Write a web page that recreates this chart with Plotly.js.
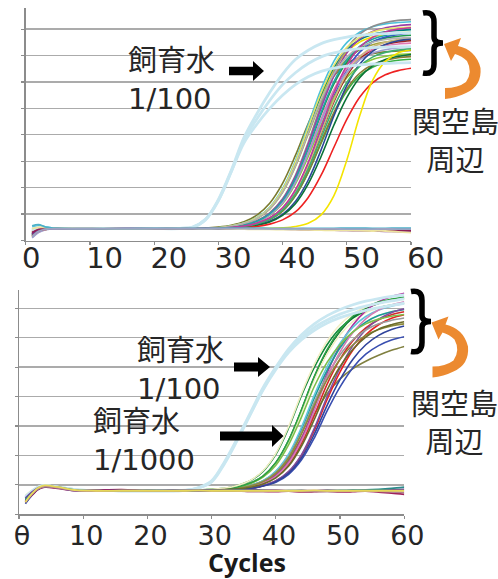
<!DOCTYPE html>
<html><head><meta charset="utf-8">
<script src="https://cdn.plot.ly/plotly-3.0.1.min.js"></script>
<style>html,body{margin:0;padding:0;background:#fff}#chart{width:498px;height:579px}</style>
</head><body><div id="chart"></div>
<script>
// ---- shared axis data ----
const CYCLES = [1,2,3,4,6,9,12,16,20,24,26,28,30,32,34,36,38,40,42,44,46,48,50,52,54,56,58,60];
const X_TICKS = [0,10,20,30,40,50,60];
const TOP_TICK_TEXT = ['0','10','20','30','40','50','60'];
const BOTTOM_TICK_TEXT = ['θ','10','20','30','40','50','60'];

// ---- top panel: 飼育水 1/100 (light blue) ----
const TW1 = [.45,.5,.48,.46,.45,.45,.45,.45,.45,.45,.5,.8,1.55,2.65,3.9,4.8,5.6,6.3,6.85,7.2,7.45,7.6,7.7,7.76,7.8,7.83,7.85,7.87];
const TW2 = [.4,.48,.47,.46,.45,.45,.45,.45,.45,.46,.5,.78,1.5,2.6,3.8,4.6,5.3,5.9,6.35,6.7,6.95,7.1,7.2,7.26,7.3,7.32,7.33,7.34];
const TW3 = [.42,.49,.47,.46,.45,.45,.45,.45,.45,.46,.51,.8,1.52,2.6,3.7,4.4,5.0,5.5,5.9,6.2,6.4,6.52,6.6,6.65,6.68,6.7,6.72,6.73];

// ---- top panel: 関空島周辺 samples ----
const T01 = [.22,.4,.45,.46,.45,.44,.44,.45,.45,.45,.46,.47,.51,.58,.71,.96,1.41,2.16,3.22,4.43,5.49,6.24,6.70,6.94,7.07,7.14,7.17,7.19];
const T02 = [.35,.46,.47,.46,.45,.45,.44,.44,.45,.45,.45,.46,.48,.54,.64,.83,1.19,1.82,2.80,4.03,5.25,6.23,6.86,7.22,7.41,7.51,7.56,7.58];
const T03 = [.12,.32,.41,.44,.45,.45,.45,.45,.45,.45,.46,.46,.48,.55,.65,.84,1.22,1.88,2.89,4.18,5.46,6.47,7.13,7.51,7.70,7.80,7.86,7.88];
const T04 = [.3,.44,.47,.46,.45,.44,.45,.45,.44,.45,.45,.46,.48,.55,.65,.85,1.23,1.90,2.93,4.23,5.52,6.55,7.22,7.60,7.80,7.90,7.95,7.98];
const T05 = [.5,.56,.52,.48,.46,.45,.45,.45,.45,.45,.46,.46,.48,.55,.66,.87,1.26,1.96,3.02,4.38,5.73,6.79,7.49,7.88,8.09,8.20,8.25,8.28];
const T06 = [.28,.42,.45,.45,.45,.45,.44,.45,.45,.45,.45,.46,.47,.52,.60,.75,1.05,1.58,2.47,3.72,5.13,6.38,7.27,7.81,8.10,8.25,8.33,8.36];
const T07 = [.18,.37,.43,.45,.45,.45,.45,.44,.45,.45,.45,.46,.47,.52,.59,.73,1.00,1.49,2.32,3.47,4.78,5.93,6.76,7.26,7.52,7.66,7.73,7.77];
const T08 = [.25,.4,.44,.45,.45,.45,.45,.45,.45,.44,.45,.46,.47,.52,.60,.74,1.03,1.55,2.42,3.64,5.01,6.23,7.10,7.63,7.91,8.05,8.13,8.17];
const T09 = [.2,.38,.44,.45,.45,.45,.44,.45,.45,.45,.45,.45,.46,.50,.55,.65,.84,1.22,1.88,2.89,4.18,5.46,6.47,7.13,7.51,7.70,7.80,7.86];
const T10 = [.4,.48,.47,.46,.45,.45,.45,.45,.45,.45,.45,.46,.47,.51,.58,.70,.95,1.39,2.14,3.18,4.37,5.41,6.16,6.61,6.85,6.97,7.04,7.07];
const T11 = [.15,.35,.42,.44,.45,.45,.45,.45,.44,.45,.45,.45,.46,.50,.54,.64,.83,1.19,1.82,2.80,4.03,5.25,6.23,6.86,7.22,7.41,7.51,7.56];
const T12 = [.32,.44,.46,.46,.45,.45,.45,.45,.45,.45,.45,.46,.47,.51,.58,.72,.98,1.45,2.24,3.35,4.60,5.71,6.50,6.98,7.23,7.37,7.44,7.47];
const T13 = [.38,.47,.47,.46,.45,.45,.45,.45,.45,.45,.45,.45,.46,.50,.54,.65,.83,1.20,1.84,2.83,4.08,5.32,6.31,6.95,7.32,7.50,7.61,7.66];
const T14 = [.1,.3,.4,.44,.45,.45,.45,.45,.45,.45,.45,.46,.47,.51,.58,.71,.97,1.43,2.20,3.29,4.51,5.60,6.37,6.84,7.09,7.22,7.29,7.32];
const T15 = [.26,.41,.45,.45,.45,.45,.45,.45,.45,.45,.45,.45,.46,.49,.53,.62,.79,1.11,1.69,2.57,3.68,4.78,5.66,6.24,6.56,6.73,6.82,6.86];
const T16 = [.45,.52,.5,.47,.46,.45,.45,.45,.45,.45,.45,.46,.47,.52,.59,.73,1.01,1.51,2.34,3.51,4.84,6.01,6.84,7.35,7.62,7.76,7.83,7.87];
const T17 = [.42,.5,.49,.47,.46,.45,.45,.45,.45,.45,.46,.46,.48,.55,.66,.86,1.24,1.92,2.96,4.28,5.59,6.63,7.31,7.69,7.89,8.00,8.05,8.08];
const T18 = [.2,.38,.43,.45,.45,.45,.45,.45,.45,.45,.45,.45,.46,.49,.54,.63,.80,1.12,1.71,2.60,3.73,4.85,5.74,6.33,6.65,6.82,6.92,6.96];
const T19 = [.22,.39,.44,.45,.45,.45,.45,.45,.45,.45,.45,.45,.46,.48,.52,.59,.73,.99,1.48,2.29,3.43,4.72,5.86,6.67,7.16,7.42,7.56,7.63];
const T20 = [.3,.42,.45,.45,.45,.45,.45,.45,.45,.45,.45,.45,.46,.48,.51,.58,.70,.95,1.39,2.14,3.18,4.37,5.41,6.16,6.61,6.85,6.97,7.04];
const T21 = [.18,.36,.42,.44,.45,.45,.45,.45,.45,.45,.45,.45,.45,.47,.49,.53,.62,.78,1.08,1.63,2.47,3.53,4.58,5.42,5.97,6.27,6.43,6.52];
const T22 = [.33,.45,.46,.46,.45,.45,.45,.45,.45,.45,.45,.45,.45,.45,.45,.45,.46,.48,.53,.65,.97,1.70,3.04,4.71,6.05,6.78,7.10,7.22];
const T23 = [.36,.46,.47,.46,.45,.45,.45,.45,.45,.45,.46,.46,.48,.54,.65,.83,1.20,1.84,2.83,4.08,5.32,6.31,6.95,7.32,7.50,7.61,7.66,7.68];
const T24 = [.24,.4,.44,.45,.45,.45,.45,.45,.45,.45,.45,.45,.46,.49,.54,.63,.81,1.16,1.77,2.70,3.88,5.05,5.98,6.59,6.94,7.12,7.21,7.26];
const T25 = [.3,.43,.45,.45,.45,.45,.45,.45,.45,.45,.45,.45,.46,.50,.55,.66,.86,1.24,1.92,2.96,4.28,5.59,6.63,7.31,7.69,7.89,8.00,8.05];

// ---- top panel: flat (negative) curves ----
const TN1 = [.25,.4,.44,.45,.44,.43,.44,.45,.45,.44,.45,.45,.44,.44,.45,.44,.43,.43,.42,.41,.40,.39,.38,.37,.36,.35,.34,.33];
const TN2 = [.3,.42,.46,.46,.45,.45,.44,.45,.44,.45,.44,.45,.45,.46,.45,.44,.44,.43,.43,.42,.42,.40,.40,.39,.40,.38,.39,.37];
const TN3 = [.45,.5,.49,.47,.46,.45,.45,.44,.45,.45,.45,.44,.45,.44,.43,.42,.42,.41,.41,.40,.39,.38,.38,.37,.36,.36,.33,.3];
const TN4 = [.55,.6,.52,.48,.46,.45,.45,.45,.46,.46,.46,.46,.46,.47,.47,.47,.46,.46,.45,.46,.46,.46,.47,.47,.46,.46,.47,.47];
const TN5 = [.15,.35,.42,.44,.44,.44,.45,.45,.45,.45,.45,.45,.45,.45,.45,.44,.44,.44,.45,.44,.44,.44,.43,.43,.43,.44,.43,.43];

// ---- bottom panel: 飼育水 (light blue) ----
const BW1 = [.55,.75,.92,.97,.92,.83,.81,.8,.8,.8,.81,.9,1.12,1.75,2.55,3.4,4.25,4.95,5.55,6.0,6.35,6.6,6.8,6.95,7.07,7.17,7.25,7.32];
const BW2 = [.6,.78,.93,.97,.92,.83,.81,.8,.8,.8,.81,.89,1.1,1.72,2.52,3.38,4.22,4.92,5.5,5.93,6.25,6.5,6.68,6.82,6.93,7.02,7.1,7.17];
const BW3 = [.58,.77,.92,.97,.92,.83,.81,.8,.8,.8,.82,.91,1.14,1.78,2.58,3.44,4.3,5.0,5.62,6.1,6.47,6.75,6.96,7.12,7.24,7.33,7.4,7.45];

// ---- bottom panel: samples ----
const B01 = [.45,.7,.9,.97,.92,.83,.8,.8,.8,.8,.81,.82,.85,.88,.98,1.14,1.46,2.04,2.94,4.04,5.0,5.77,6.32,6.67,6.90,7.02,7.11,7.16];
const B02 = [.5,.72,.9,.96,.91,.82,.8,.8,.8,.8,.81,.82,.84,.87,.93,1.06,1.30,1.75,2.51,3.54,4.67,5.56,6.22,6.69,6.99,7.16,7.26,7.33];
const B03 = [.6,.78,.92,.97,.92,.83,.81,.8,.8,.81,.81,.82,.84,.87,.93,1.05,1.29,1.73,2.47,3.48,4.58,5.45,6.10,6.55,6.85,7.01,7.12,7.18];
const B04 = [.55,.75,.9,.96,.92,.83,.81,.8,.8,.8,.81,.82,.83,.85,.88,.98,1.13,1.45,2.01,2.89,3.96,4.90,5.66,6.19,6.53,6.75,6.88,6.96];
const B05 = [.42,.68,.87,.95,.91,.82,.8,.8,.8,.8,.8,.81,.82,.84,.87,.95,1.08,1.35,1.85,2.6,3.4,4.1,4.6,4.95,5.2,5.4,5.57,5.7];
const B06 = [.4,.66,.86,.94,.9,.82,.8,.8,.8,.8,.8,.81,.82,.84,.85,.87,.96,1.09,1.36,1.85,2.60,3.52,4.33,4.98,5.44,5.73,5.92,6.03];
const B07 = [.48,.7,.88,.95,.91,.82,.8,.8,.8,.8,.8,.81,.82,.84,.85,.88,.97,1.13,1.44,2.0,2.86,3.91,4.84,5.58,6.10,6.44,6.66,6.78];
const B08 = [.52,.72,.89,.95,.9,.82,.8,.8,.8,.8,.8,.81,.82,.84,.86,.93,1.04,1.27,1.69,2.41,3.37,4.43,5.27,5.90,6.33,6.61,6.78,6.88];
const B09 = [.44,.68,.88,.95,.91,.82,.8,.8,.8,.8,.8,.81,.82,.85,.87,.94,1.07,1.32,1.78,2.57,3.64,4.81,5.74,6.43,6.91,7.22,7.40,7.51];
const B10 = [.58,.76,.9,.96,.91,.82,.8,.8,.8,.8,.81,.81,.83,.85,.88,.98,1.13,1.45,2.01,2.89,3.96,4.90,5.66,6.19,6.53,6.75,6.88,6.96];
const B11 = [.62,.8,.93,.97,.92,.83,.81,.8,.8,.8,.81,.82,.83,.85,.88,.98,1.14,1.47,2.05,2.96,4.06,5.03,5.81,6.36,6.72,6.94,7.07,7.16];
const B12 = [.46,.7,.88,.95,.9,.82,.8,.8,.8,.8,.8,.81,.82,.84,.85,.88,.98,1.14,1.46,2.03,2.93,4.01,4.97,5.73,6.27,6.63,6.85,6.98];
const B13 = [.5,.72,.89,.95,.91,.82,.8,.8,.8,.8,.8,.81,.83,.85,.88,.97,1.12,1.42,1.96,2.79,3.81,4.71,5.42,5.93,6.26,6.47,6.59,6.67];
const B14 = [.48,.7,.88,.95,.91,.82,.8,.8,.8,.8,.8,.81,.82,.85,.87,.93,1.06,1.29,1.74,2.50,3.52,4.64,5.52,6.18,6.64,6.94,7.11,7.22];
const B15 = [.54,.74,.9,.96,.91,.82,.8,.8,.8,.8,.81,.82,.84,.86,.92,1.04,1.26,1.67,2.37,3.31,4.35,5.17,5.77,6.20,6.47,6.63,6.73,6.79];
const B16 = [.4,.66,.86,.94,.9,.82,.8,.8,.8,.8,.8,.81,.83,.85,.88,.96,1.11,1.40,1.92,2.73,3.71,4.58,5.27,5.76,6.08,6.28,6.40,6.47];
const B17 = [.36,.64,.85,.94,.9,.82,.8,.8,.8,.8,.8,.81,.82,.84,.85,.88,.96,1.11,1.40,1.92,2.73,3.71,4.58,5.27,5.76,6.08,6.28,6.40];
const B18 = [.5,.72,.9,.96,.91,.82,.8,.8,.8,.8,.81,.82,.84,.87,.93,1.06,1.30,1.76,2.52,3.56,4.69,5.60,6.26,6.73,7.03,7.21,7.31,7.38];
const B19 = [.64,.82,.94,.98,.92,.83,.81,.8,.8,.81,.81,.82,.85,.89,.98,1.15,1.48,2.07,2.99,4.11,5.10,5.89,6.45,6.81,7.04,7.17,7.26,7.31];
const B20 = [.44,.68,.87,.95,.9,.82,.8,.8,.8,.8,.8,.81,.82,.84,.86,.92,1.03,1.24,1.64,2.32,3.23,4.23,5.02,5.61,6.02,6.29,6.44,6.54];

// ---- bottom panel: flat (negative) curves ----
const BN1 = [.45,.65,.85,.92,.88,.8,.82,.84,.8,.8,.8,.8,.8,.79,.8,.78,.78,.77,.79,.76,.77,.79,.76,.77,.79,.75,.72,.68];
const BN2 = [.55,.75,.9,.95,.9,.8,.8,.8,.81,.82,.81,.82,.82,.81,.82,.83,.82,.82,.8,.81,.8,.82,.8,.81,.8,.82,.83,.85];
const BN3 = [.5,.7,.88,.95,.92,.82,.8,.8,.81,.8,.8,.8,.8,.8,.81,.8,.8,.79,.8,.8,.79,.8,.81,.82,.83,.85,.88,.92];
const BN4 = [.4,.68,.87,.94,.9,.8,.79,.8,.8,.79,.8,.8,.79,.8,.79,.78,.78,.8,.79,.78,.78,.77,.78,.79,.8,.78,.76,.74];
const BN5 = [.42,.7,.9,.98,.93,.82,.8,.8,.8,.8,.8,.81,.8,.8,.8,.8,.8,.8,.8,.8,.81,.8,.8,.8,.8,.8,.8,.8];

// ---- series groups and colours ----
const TOP_WATER = [TW1, TW2, TW3];
const TOP_SAMPLES = [T01,T02,T03,T04,T05,T06,T07,T08,T09,T10,T11,T12,T13,T14,T15,T16,T17,T18,T19,T20,T21,T22,T23,T24,T25];
const TOP_SAMPLE_COLORS = ['#7A7A2E','#A3A33C','#F2E200','#00807F','#4CC0DA','#8E8E8E','#1F9A4C','#9B3FA6','#3556C8','#8CC83C','#9E2424','#E07AB4','#C9B87C','#9C9CD2','#37B043','#21A3A3','#E4E46A','#8A7C36','#2D4898','#0A7238','#EE2222','#F4E400','#B2B2B2','#3DB070','#C03A9C'];
const TOP_NEG = [TN1, TN2, TN3, TN4, TN5];
const TOP_NEG_COLORS = ['#7B2D8E','#8E1F55','#EDE3A0','#4BB0C8','#9AA4C4'];

const BOT_WATER = [BW1, BW2, BW3];
const BOT_SAMPLES = [B01,B02,B03,B04,B05,B06,B07,B08,B09,B10,B11,B12,B13,B14,B15,B16,B17,B18,B19,B20];
const BOT_SAMPLE_COLORS = ['#138A3A','#0B6E32','#F0F0C0','#EEEEB0','#808040','#3A4FB0','#E82020','#D42A2A','#B0309C','#1A9A9A','#62C5DA','#7E4FA0','#9A9A9A','#D47CB5','#7DBF4A','#8C8A3C','#30449C','#2EA043','#F3EEC6','#6B6B2A'];
const BOT_NEG = [BN1, BN2, BN3, BN4, BN5];
const BOT_NEG_COLORS = ['#A0205A','#6A3D9A','#2A8A8A','#B08090','#E6D85A'];

const WATER_COLOR = '#C9E7F1';

// ---- build traces ----
const traces = [];
function add(ys, color, width, xa, ya) {
  traces.push({x: CYCLES, y: ys, type: 'scatter', mode: 'lines', xaxis: xa, yaxis: ya,
    line: {color: color, width: width, shape: 'spline', smoothing: 1}, hoverinfo: 'skip'});
}
TOP_SAMPLES.forEach((s, i) => add(s, TOP_SAMPLE_COLORS[i], 1.6, 'x', 'y'));
TOP_WATER.forEach(s => add(s, WATER_COLOR, 2.8, 'x', 'y'));
TOP_NEG.forEach((s, i) => add(s, TOP_NEG_COLORS[i], 1.8, 'x', 'y'));
BOT_SAMPLES.forEach((s, i) => add(s, BOT_SAMPLE_COLORS[i], 1.6, 'x2', 'y2'));
BOT_WATER.forEach(s => add(s, WATER_COLOR, 2.8, 'x2', 'y2'));
BOT_NEG.forEach((s, i) => add(s, BOT_NEG_COLORS[i], 1.8, 'x2', 'y2'));

// ---- decorations (pixel helper -> paper coords) ----
const W = 498, H = 579;
function P(x, y) { return (x / W).toFixed(5) + ',' + (1 - y / H).toFixed(5); }
function arrowPath(x0, x1, x2, yc, half, headHalf) {
  return 'M' + P(x0, yc - half) + ' L' + P(x1, yc - half) + ' L' + P(x1, yc - headHalf) + ' L' + P(x2, yc) +
    ' L' + P(x1, yc + headHalf) + ' L' + P(x1, yc + half) + ' L' + P(x0, yc + half) + ' Z';
}
function bracePath(dx, dy) {
  const p = (x, y) => P(x + dx, y + dy);
  return 'M' + p(423, 13) + ' Q' + p(434, 11) + ' ' + p(434, 22) + ' L' + p(434, 37) +
    ' Q' + p(434, 43) + ' ' + p(443, 43) + ' Q' + p(434, 43) + ' ' + p(434, 49) +
    ' L' + p(434, 64) + ' Q' + p(434, 75) + ' ' + p(423, 73);
}
function curlPath(dx, dy) {
  const p = (x, y) => P(x + dx, y + dy);
  return 'M' + p(444, 44) + ' L' + p(461, 38) + ' L' + p(458, 46) +
    ' Q' + p(476, 50) + ' ' + p(480.5, 68) + ' Q' + p(482, 86) + ' ' + p(466, 93) +
    ' Q' + p(456, 98) + ' ' + p(445, 99) + ' L' + p(445, 88) +
    ' Q' + p(458, 88) + ' ' + p(466, 82) + ' Q' + p(473, 72) + ' ' + p(467, 61) +
    ' Q' + p(462, 56) + ' ' + p(455, 54) + ' L' + p(451, 61) + ' Z';
}
const shapes = [
  {type: 'path', xref: 'paper', yref: 'paper', path: arrowPath(229, 253, 264, 71, 4.2, 10), fillcolor: '#000', line: {width: 0}},
  {type: 'path', xref: 'paper', yref: 'paper', path: arrowPath(234, 258, 270, 367, 4.5, 10), fillcolor: '#000', line: {width: 0}},
  {type: 'path', xref: 'paper', yref: 'paper', path: arrowPath(220, 272, 283.5, 436, 4.5, 11), fillcolor: '#000', line: {width: 0}},
  {type: 'path', xref: 'paper', yref: 'paper', path: bracePath(0, 0), line: {color: '#000', width: 5.5}},
  {type: 'path', xref: 'paper', yref: 'paper', path: bracePath(-12, 278.5), line: {color: '#000', width: 5.5}},
  {type: 'path', xref: 'paper', yref: 'paper', path: curlPath(0, 0), fillcolor: '#EC8A30', line: {width: 0}},
  {type: 'path', xref: 'paper', yref: 'paper', path: curlPath(-12.5, 278.5), fillcolor: '#EC8A30', line: {width: 0}}
];

const TXT = {family: 'DejaVu Sans, Noto Sans CJK JP, sans-serif', size: 29, color: '#262626'};
const annotations = [
  {text: '飼育水<br>1/100', xref: 'paper', yref: 'paper', x: 126 / W, y: 1 - 79.5 / H, xanchor: 'left', yanchor: 'middle', align: 'left', showarrow: false, font: TXT},
  {text: '関空島<br>周辺', xref: 'paper', yref: 'paper', x: 455 / W, y: 1 - 142 / H, xanchor: 'center', yanchor: 'middle', align: 'center', showarrow: false, font: TXT},
  {text: '飼育水<br>1/100', xref: 'paper', yref: 'paper', x: 135 / W, y: 1 - 369.5 / H, xanchor: 'left', yanchor: 'middle', align: 'left', showarrow: false, font: TXT},
  {text: '飼育水<br>1/1000', xref: 'paper', yref: 'paper', x: 91 / W, y: 1 - 441 / H, xanchor: 'left', yanchor: 'middle', align: 'left', showarrow: false, font: TXT},
  {text: '関空島<br>周辺', xref: 'paper', yref: 'paper', x: 454 / W, y: 1 - 424 / H, xanchor: 'center', yanchor: 'middle', align: 'center', showarrow: false, font: TXT},
  {text: '<b>Cycles</b>', xref: 'paper', yref: 'paper', x: 246.7 / W, y: 1 - 561.5 / H, xanchor: 'center', yanchor: 'middle', showarrow: false, font: {family: 'Open Sans, sans-serif', size: 25, color: '#1a1a1a'}}
];

const axisLine = {showline: true, linecolor: '#8C8C8C', linewidth: 1.3, ticks: 'outside', ticklen: 3, tickcolor: '#8C8C8C', tickwidth: 1.2, zeroline: false, fixedrange: true};

const layout = {
  width: W, height: H, margin: {l: 0, r: 0, t: 0, b: 0},
  paper_bgcolor: '#fff', plot_bgcolor: '#fff', showlegend: false, hovermode: false,
  xaxis: Object.assign({}, axisLine, {domain: [25.7 / W, 411 / W], range: [0, 60], anchor: 'y', tickmode: 'array', tickvals: X_TICKS, ticktext: TOP_TICK_TEXT, showgrid: false, ticklabelposition: 'outside right', ticklabelshift: -5, ticklabelstandoff: -9, tickfont: {family: 'DejaVu Sans', size: 29, color: '#262626'}}),
  yaxis: Object.assign({}, axisLine, {domain: [1 - 240.5 / H, 1 - 8 / H], range: [0, 8.8], anchor: 'x', tick0: 0, dtick: 1, showticklabels: false, showgrid: true, gridcolor: '#ABABAB', gridwidth: 1.3}),
  xaxis2: Object.assign({}, axisLine, {domain: [19 / W, 404.3 / W], range: [0, 60], anchor: 'y2', tickmode: 'array', tickvals: X_TICKS, ticktext: BOTTOM_TICK_TEXT, showgrid: false, ticklabelshift: 3, ticklabelstandoff: -6, tickfont: {family: 'DejaVu Sans', size: 27, color: '#262626'}}),
  yaxis2: Object.assign({}, axisLine, {domain: [1 - 514.3 / H, 1 - 290 / H], range: [0, 7.62], anchor: 'x2', tick0: 0, dtick: 1, showticklabels: false, showgrid: true, gridcolor: '#ABABAB', gridwidth: 1.3}),
  shapes: shapes,
  annotations: annotations
};

Plotly.newPlot('chart', traces, layout, {staticPlot: true, displayModeBar: false});
</script>
</body></html>
